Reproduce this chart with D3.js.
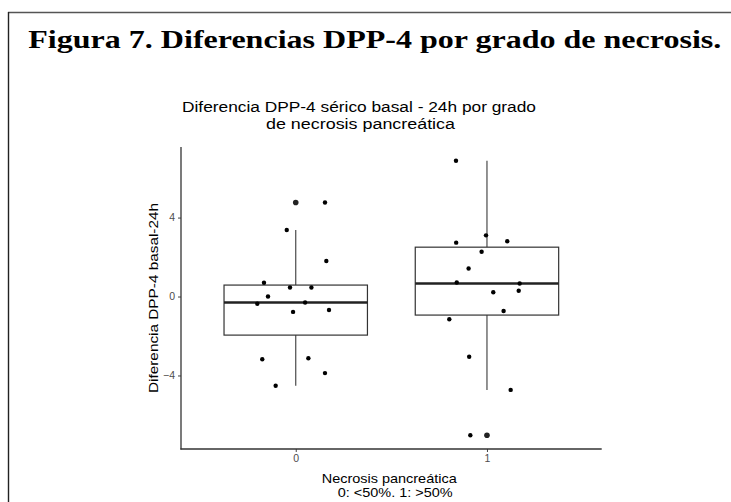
<!DOCTYPE html>
<html><head><meta charset="utf-8">
<script src="https://cdn.jsdelivr.net/npm/d3@7"></script>
<style>body{margin:0;background:#fff}svg{display:block}</style>
</head><body>
<svg id="c" width="731" height="502"></svg>
<script>
// ---- data ----
const categories = ["0", "1"];
const values0 = [4.76, 3.37, 1.80, 0.70, 0.46, 0.46, 0.00, -0.37, -0.30, -0.78, -0.68, -3.18, -3.13, -3.88, -4.52];
const jitter0 = [0.153, -0.047, 0.160, -0.166, -0.030, 0.082, -0.145, -0.201, 0.049, -0.014, 0.174, -0.175, 0.066, 0.153, -0.105];
const values1 = [6.88, 3.10, 2.73, 2.80, 2.27, 1.42, 0.71, 0.66, 0.22, 0.29, -0.73, -1.15, -3.05, -4.73, -7.03];
const jitter1 = [-0.162, -0.005, -0.161, 0.106, -0.028, -0.096, -0.158, 0.171, 0.033, 0.166, 0.087, -0.197, -0.093, 0.124, -0.087];
const yTicks = [-4, 0, 4];
const figTitle = "Figura 7. Diferencias DPP-4 por grado de necrosis.";
const plotTitle = ["Diferencia DPP-4 sérico basal - 24h por grado", "de necrosis pancreática"];
const xTitle = ["Necrosis pancreática", "0: <50%. 1: >50%"];
const yTitle = "Diferencia DPP-4 basal-24h";

const groups = [
  {cat: 0, values: values0, jitter: jitter0},
  {cat: 1, values: values1, jitter: jitter1}
];

const svg = d3.select("#c");
const L = 181, R = 601.7, T = 147, B = 449;

function txt(x, yy, s, size, len, opts = {}) {
  const t = svg.append("text").attr("x", x).attr("y", yy)
    .attr("font-family", opts.family || "Liberation Sans").attr("font-size", size)
    .attr("fill", opts.fill || "#000").attr("text-anchor", opts.anchor || "middle")
    .attr("textLength", len).attr("lengthAdjust", "spacingAndGlyphs").text(s);
  if (opts.weight) t.attr("font-weight", opts.weight);
  if (opts.transform) t.attr("transform", opts.transform);
  return t;
}

// frame
svg.append("line").attr("x1", 8).attr("x2", 731).attr("y1", 12.5).attr("y2", 12.5)
  .attr("stroke", "#555").attr("stroke-width", 1.4);
svg.append("line").attr("x1", 8.5).attr("x2", 8.5).attr("y1", 12).attr("y2", 502)
  .attr("stroke", "#222").attr("stroke-width", 1.4);

txt(28.3, 48, figTitle, 25, 693, {family: "Liberation Serif", weight: "bold", anchor: "start"});

const all = values0.concat(values1);
const ext = d3.extent(all);
const pad = (ext[1] - ext[0]) * 0.05;
const y = d3.scaleLinear().domain([ext[0] - pad, ext[1] + pad]).range([B, T]);
const x = d3.scaleLinear().domain([-0.6, 1.6]).range([L, R]);
const bw = 0.75;

// plot title
txt(182, 112, plotTitle[0], 14, 354, {anchor: "start"});
txt(266, 129, plotTitle[1], 14, 189, {anchor: "start"});

// boxplots
groups.forEach(g => {
  const s = g.values.slice().sort(d3.ascending);
  const q1 = d3.quantile(s, 0.25), med = d3.quantile(s, 0.5), q3 = d3.quantile(s, 0.75);
  const iqr = q3 - q1;
  const lo = d3.min(s.filter(v => v >= q1 - 1.5 * iqr));
  const hi = d3.max(s.filter(v => v <= q3 + 1.5 * iqr));
  const outl = s.filter(v => v < q1 - 1.5 * iqr || v > q3 + 1.5 * iqr);
  const cx = x(g.cat), x0 = x(g.cat - bw / 2), x1 = x(g.cat + bw / 2);
  const gg = svg.append("g");
  gg.append("line").attr("x1", cx).attr("x2", cx).attr("y1", y(hi)).attr("y2", y(q3))
    .attr("stroke", "#4a4a4a").attr("stroke-width", 1.2);
  gg.append("line").attr("x1", cx).attr("x2", cx).attr("y1", y(q1)).attr("y2", y(lo))
    .attr("stroke", "#4a4a4a").attr("stroke-width", 1.2);
  gg.append("rect").attr("x", x0).attr("y", y(q3)).attr("width", x1 - x0).attr("height", y(q1) - y(q3))
    .attr("fill", "#fff").attr("stroke", "#333").attr("stroke-width", 1.2);
  gg.append("line").attr("x1", x0).attr("x2", x1).attr("y1", y(med)).attr("y2", y(med))
    .attr("stroke", "#222").attr("stroke-width", 2.4);
  outl.forEach(v => gg.append("circle").attr("cx", cx).attr("cy", y(v)).attr("r", 2.8).attr("fill", "#222"));
  g.values.forEach((v, i) => {
    svg.append("circle").attr("cx", x(g.cat + g.jitter[i])).attr("cy", y(v)).attr("r", 2.2).attr("fill", "#000");
  });
});

// axes
const yAx = svg.append("g").attr("transform", `translate(${L},0)`)
  .call(d3.axisLeft(y).tickValues(yTicks).tickSize(3).tickPadding(3).tickFormat(d3.format("d")));
const xAx = svg.append("g").attr("transform", `translate(0,${B})`)
  .call(d3.axisBottom(x).tickValues([0, 1]).tickSize(3).tickPadding(3).tickFormat(i => categories[i]));
[yAx, xAx].forEach(a => {
  a.select(".domain").remove();
  a.selectAll(".tick line").attr("stroke", "#444").attr("stroke-width", 1);
  a.selectAll(".tick text").attr("fill", "#4d4d4d").attr("font-family", "Liberation Sans").attr("font-size", 10.5);
});
svg.append("line").attr("x1", L).attr("x2", L).attr("y1", T).attr("y2", B + 0.6)
  .attr("stroke", "#333").attr("stroke-width", 1.3);
svg.append("line").attr("x1", L - 0.6).attr("x2", R).attr("y1", B).attr("y2", B)
  .attr("stroke", "#333").attr("stroke-width", 1.3);

// axis titles
txt(321.7, 482.5, xTitle[0], 13, 135, {anchor: "start"});
txt(337.7, 497, xTitle[1], 13, 115, {anchor: "start"});
txt(0, 0, yTitle, 13, 190, {transform: `translate(158,${(T + B) / 2}) rotate(-90)`});
</script>
</body></html>
